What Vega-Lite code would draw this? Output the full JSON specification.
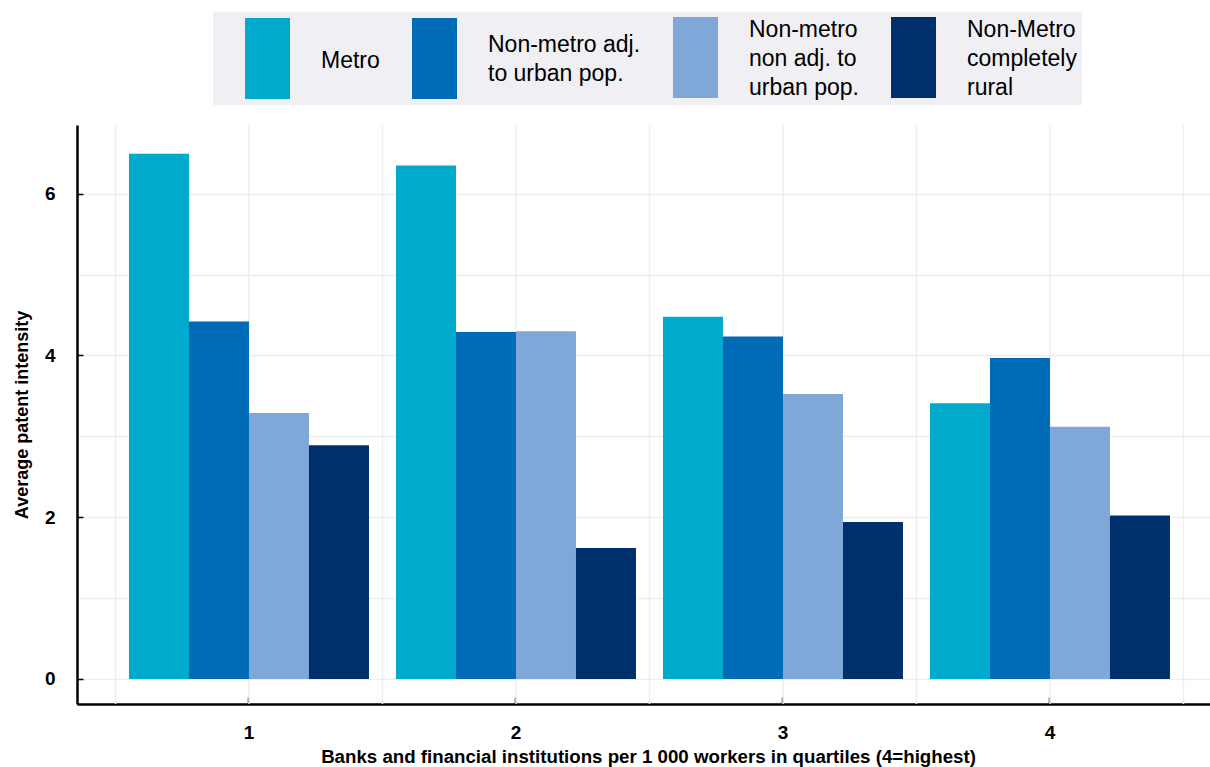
{
  "$schema": "https://vega.github.io/schema/vega-lite/v6.json",
  "width": 1133,
  "height": 579,
  "autosize": {"type": "none"},
  "padding": {"left": 77, "top": 125, "right": 0, "bottom": 63},
  "background": "white",
  "config": {"view": {"stroke": null}, "font": "Liberation Sans"},
  "datasets": {
    "bars": [
      {"quartile": "1", "area": "Metro", "value": 6.495},
      {"quartile": "1", "area": "Non-metro adj. to urban pop.", "value": 4.42},
      {"quartile": "1", "area": "Non-metro non adj. to urban pop.", "value": 3.29},
      {"quartile": "1", "area": "Non-Metro completely rural", "value": 2.89},
      {"quartile": "2", "area": "Metro", "value": 6.35},
      {"quartile": "2", "area": "Non-metro adj. to urban pop.", "value": 4.29},
      {"quartile": "2", "area": "Non-metro non adj. to urban pop.", "value": 4.30},
      {"quartile": "2", "area": "Non-Metro completely rural", "value": 1.62},
      {"quartile": "3", "area": "Metro", "value": 4.48},
      {"quartile": "3", "area": "Non-metro adj. to urban pop.", "value": 4.235},
      {"quartile": "3", "area": "Non-metro non adj. to urban pop.", "value": 3.525},
      {"quartile": "3", "area": "Non-Metro completely rural", "value": 1.94},
      {"quartile": "4", "area": "Metro", "value": 3.41},
      {"quartile": "4", "area": "Non-metro adj. to urban pop.", "value": 3.97},
      {"quartile": "4", "area": "Non-metro non adj. to urban pop.", "value": 3.12},
      {"quartile": "4", "area": "Non-Metro completely rural", "value": 2.02}
    ],
    "grid": [
      {"g": 0.5}, {"g": 1}, {"g": 1.5}, {"g": 2}, {"g": 2.5}, {"g": 3}, {"g": 3.5}, {"g": 4}, {"g": 4.5}
    ]
  },
  "layer": [
    {
      "data": {"name": "grid"},
      "mark": {"type": "rule", "color": "#eeeeee", "strokeWidth": 1.5},
      "encoding": {
        "x": {"field": "g", "type": "quantitative", "scale": {"domain": [0.3558, 4.5993], "nice": false, "zero": false}, "axis": null}
      }
    },
    {
      "data": {"name": "bars"},
      "mark": {"type": "bar"},
      "encoding": {
        "x": {
          "field": "quartile", "type": "ordinal",
          "scale": {"paddingInner": 0.1011, "paddingOuter": 0.1723, "align": 0.565},
          "axis": {
            "title": "Banks and financial institutions per 1 000 workers in quartiles (4=highest)",
            "labelAngle": 0, "domainColor": "black", "domainWidth": 2.5,
            "tickColor": "black", "tickWidth": 1.5, "tickSize": -7, "labelPadding": 26,
            "labelFont": "Liberation Sans", "labelFontSize": 19, "labelFontWeight": "bold", "labelColor": "black",
            "grid": false,
            "titleFont": "Liberation Sans", "titleFontSize": 18.7, "titleFontWeight": "bold", "titleColor": "black", "titlePadding": 5,
            "titleX": 571
          }
        },
        "xOffset": {
          "field": "area", "type": "nominal",
          "sort": ["Metro", "Non-metro adj. to urban pop.", "Non-metro non adj. to urban pop.", "Non-Metro completely rural"],
          "scale": {"paddingInner": 0, "paddingOuter": 0}
        },
        "y": {
          "field": "value", "type": "quantitative",
          "scale": {"domain": [-0.31, 6.85], "nice": false, "zero": false},
          "axis": {
            "title": "Average patent intensity",
            "values": [0, 1, 2, 3, 4, 5, 6],
            "labelExpr": "datum.value % 2 == 0 ? datum.label : ''",
            "tickOpacity": {"condition": {"test": "datum.value % 2 == 1", "value": 0}, "value": 1},
            "grid": true, "gridColor": "#eeeeee", "gridWidth": 1.5,
            "domainColor": "black", "domainWidth": 2.5,
            "tickColor": "black", "tickWidth": 1.5, "tickSize": -6, "labelPadding": 28,
            "labelFont": "Liberation Sans", "labelFontSize": 19, "labelFontWeight": "bold", "labelColor": "black",
            "titleFont": "Liberation Sans", "titleFontSize": 18, "titleFontWeight": "bold", "titleColor": "black", "titlePadding": 13
          }
        },
        "color": {
          "field": "area", "type": "nominal",
          "sort": ["Metro", "Non-metro adj. to urban pop.", "Non-metro non adj. to urban pop.", "Non-Metro completely rural"],
          "scale": {
            "domain": ["Metro", "Non-metro adj. to urban pop.", "Non-metro non adj. to urban pop.", "Non-Metro completely rural"],
            "range": ["#00aacc", "#006bb6", "#7fa7d8", "#00306c"]
          },
          "legend": {
            "orient": "none", "legendX": 136, "legendY": -113,
            "title": null, "direction": "horizontal", "columns": 4, "columnPadding": 5,
            "padding": 5, "fillColor": "#f0eff3",
            "symbolType": "M-0.333,-1H0.778V1H-0.333Z", "symbolSize": 6561,
            "symbolStrokeWidth": 0, "symbolOpacity": 1,
            "labelFont": "Liberation Sans", "labelFontSize": 23, "labelColor": "black",
            "labelOffset": 22, "labelLimit": 0,
            "labelExpr": "datum.label == 'Non-metro adj. to urban pop.' ? ['Non-metro adj.', 'to urban pop.'] : datum.label == 'Non-metro non adj. to urban pop.' ? ['Non-metro', 'non adj. to', 'urban pop.'] : datum.label == 'Non-Metro completely rural' ? ['Non-Metro', 'completely', 'rural'] : datum.label",
            "encode": {
              "symbols": {"update": {"y": {"value": 40.5}}},
              "labels": {"update": {
                "lineHeight": {"value": 29},
                "baseline": {"value": "middle"},
                "y": {"signal": "datum.value == 'Metro' ? 43 : datum.value == 'Non-metro adj. to urban pop.' ? 27 : 13"}
              }}
            }
          }
        }
      }
    }
  ],
  "resolve": {"scale": {"x": "independent"}}
}
